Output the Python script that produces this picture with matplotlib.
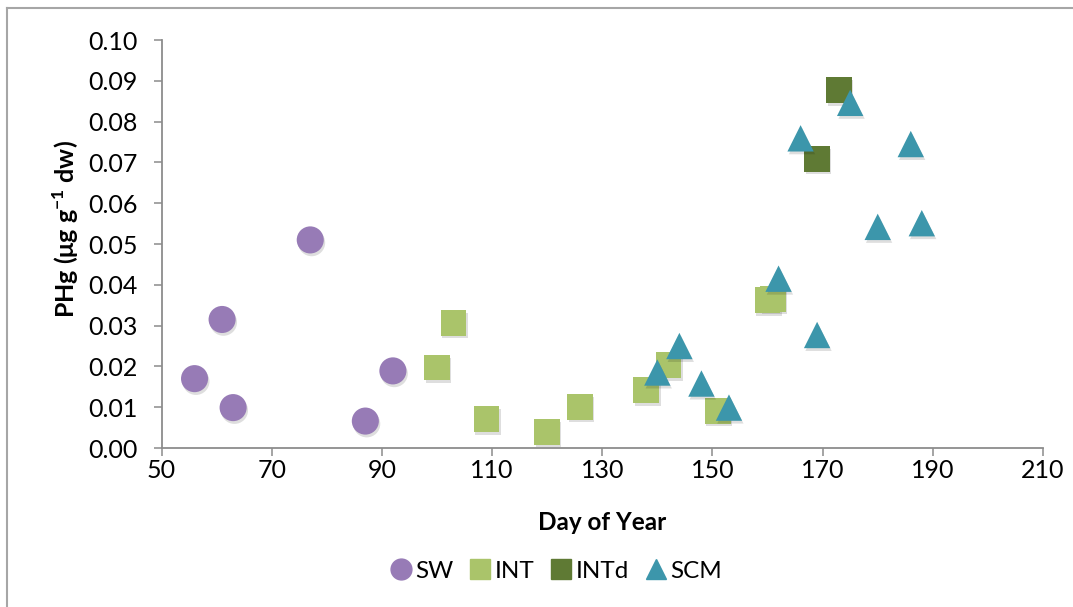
import matplotlib
matplotlib.use("Agg")
import matplotlib.pyplot as plt
import matplotlib.patheffects as pe
from matplotlib.lines import Line2D

# data
sw_day = [56, 61, 63, 77, 87, 92]
sw_phg = [0.0170, 0.0315, 0.0099, 0.0510, 0.0066, 0.0189]

int_day = [100, 103, 109, 120, 126, 138, 142, 151, 160, 161]
int_phg = [0.0197, 0.0307, 0.0071, 0.0040, 0.0101, 0.0142, 0.0203, 0.0091, 0.0362, 0.0366]

intd_day = [169, 173]
intd_phg = [0.0709, 0.0877]

scm_day = [140, 144, 148, 153, 162, 166, 169, 175, 180, 186, 188]
scm_phg = [0.0185, 0.0250, 0.0158, 0.0099, 0.0415, 0.0759, 0.0277, 0.0846, 0.0542, 0.0745, 0.0551]

x_ticks = [50, 70, 90, 110, 130, 150, 170, 190, 210]
y_ticks = [0.00, 0.01, 0.02, 0.03, 0.04, 0.05, 0.06, 0.07, 0.08, 0.09, 0.10]

plt.rcParams['font.family'] = ['Lato', 'DejaVu Sans']
plt.rcParams['mathtext.fontset'] = 'custom'
plt.rcParams['mathtext.rm'] = 'Lato'
plt.rcParams['mathtext.bf'] = 'Lato:bold'

fig = plt.figure(figsize=(10.73, 6.07), dpi=100)
ax = fig.add_axes([161.5 / 1073, 1 - 448 / 607, (1043 - 161.5) / 1073, (448 - 40) / 607])

shadow = [pe.SimplePatchShadow(offset=(1, -2), alpha=0.13, shadow_rgbFace='k'), pe.Normal()]

ax.scatter(sw_day, sw_phg, s=19.5 ** 2, marker='o', color='#977BB6', label='SW',
           zorder=3, path_effects=shadow, linewidths=0)
ax.scatter(int_day, int_phg, s=18.5 ** 2, marker='s', color='#AAC46A', label='INT',
           zorder=3, path_effects=shadow, linewidths=0)
ax.scatter(intd_day, intd_phg, s=18.5 ** 2, marker='s', color='#5F7A34', label='INTd',
           zorder=3, path_effects=shadow, linewidths=0)
ax.scatter(scm_day, scm_phg, s=19 ** 2, marker='^', color='#3C96AB', label='SCM',
           zorder=4, path_effects=shadow, linewidths=0)

ax.set_xlim(50, 210)
ax.set_ylim(0, 0.10)
ax.set_xticks(x_ticks)
ax.set_yticks(y_ticks)
ax.set_yticklabels(['%.2f' % v for v in y_ticks])

for side in ['top', 'right']:
    ax.spines[side].set_visible(False)
for side in ['left', 'bottom']:
    ax.spines[side].set_color('#8C8C8C')
    ax.spines[side].set_linewidth(1.3)

ax.tick_params(axis='both', colors='#8C8C8C', labelcolor='black', labelsize=18,
               length=6, width=1.1, direction='out')
ax.tick_params(axis='x', pad=2)
ax.tick_params(axis='y', pad=11)

ax.set_xlabel('Day of Year', fontsize=17.5, fontweight='bold', va='center')
ax.xaxis.set_label_coords(0.5, (448 - 523) / 408)
ax.set_ylabel(r'PHg (μg g$^{\mathbf{-1}}$ dw)', fontsize=18, fontweight='bold', va='center')
ax.yaxis.set_label_coords((66 - 161.5) / 881.5, (448 - 229) / 408)

handles = [
    Line2D([], [], marker='o', ls='', color='#977BB6', markersize=15),
    Line2D([], [], marker='s', ls='', color='#AAC46A', markersize=14),
    Line2D([], [], marker='s', ls='', color='#5F7A34', markersize=14),
    Line2D([], [], marker='^', ls='', color='#3C96AB', markersize=15),
]
fig.legend(handles, ['SW', 'INT', 'INTd', 'SCM'], loc='center', bbox_to_anchor=(554 / 1073, 1 - 571 / 607),
           ncol=4, frameon=False, fontsize=17.5, handletextpad=0.0, columnspacing=0.5,
           handlelength=1.2)

# outer chart border
fig.add_artist(Line2D([7 / 1073, 7 / 1073], [0, 1 - 8 / 607], transform=fig.transFigure,
                      color='#A6A6A6', lw=1.5))
fig.add_artist(Line2D([7 / 1073, 1], [1 - 8 / 607, 1 - 8 / 607], transform=fig.transFigure,
                      color='#A6A6A6', lw=1.5))

fig.savefig('out.png', dpi=100)
